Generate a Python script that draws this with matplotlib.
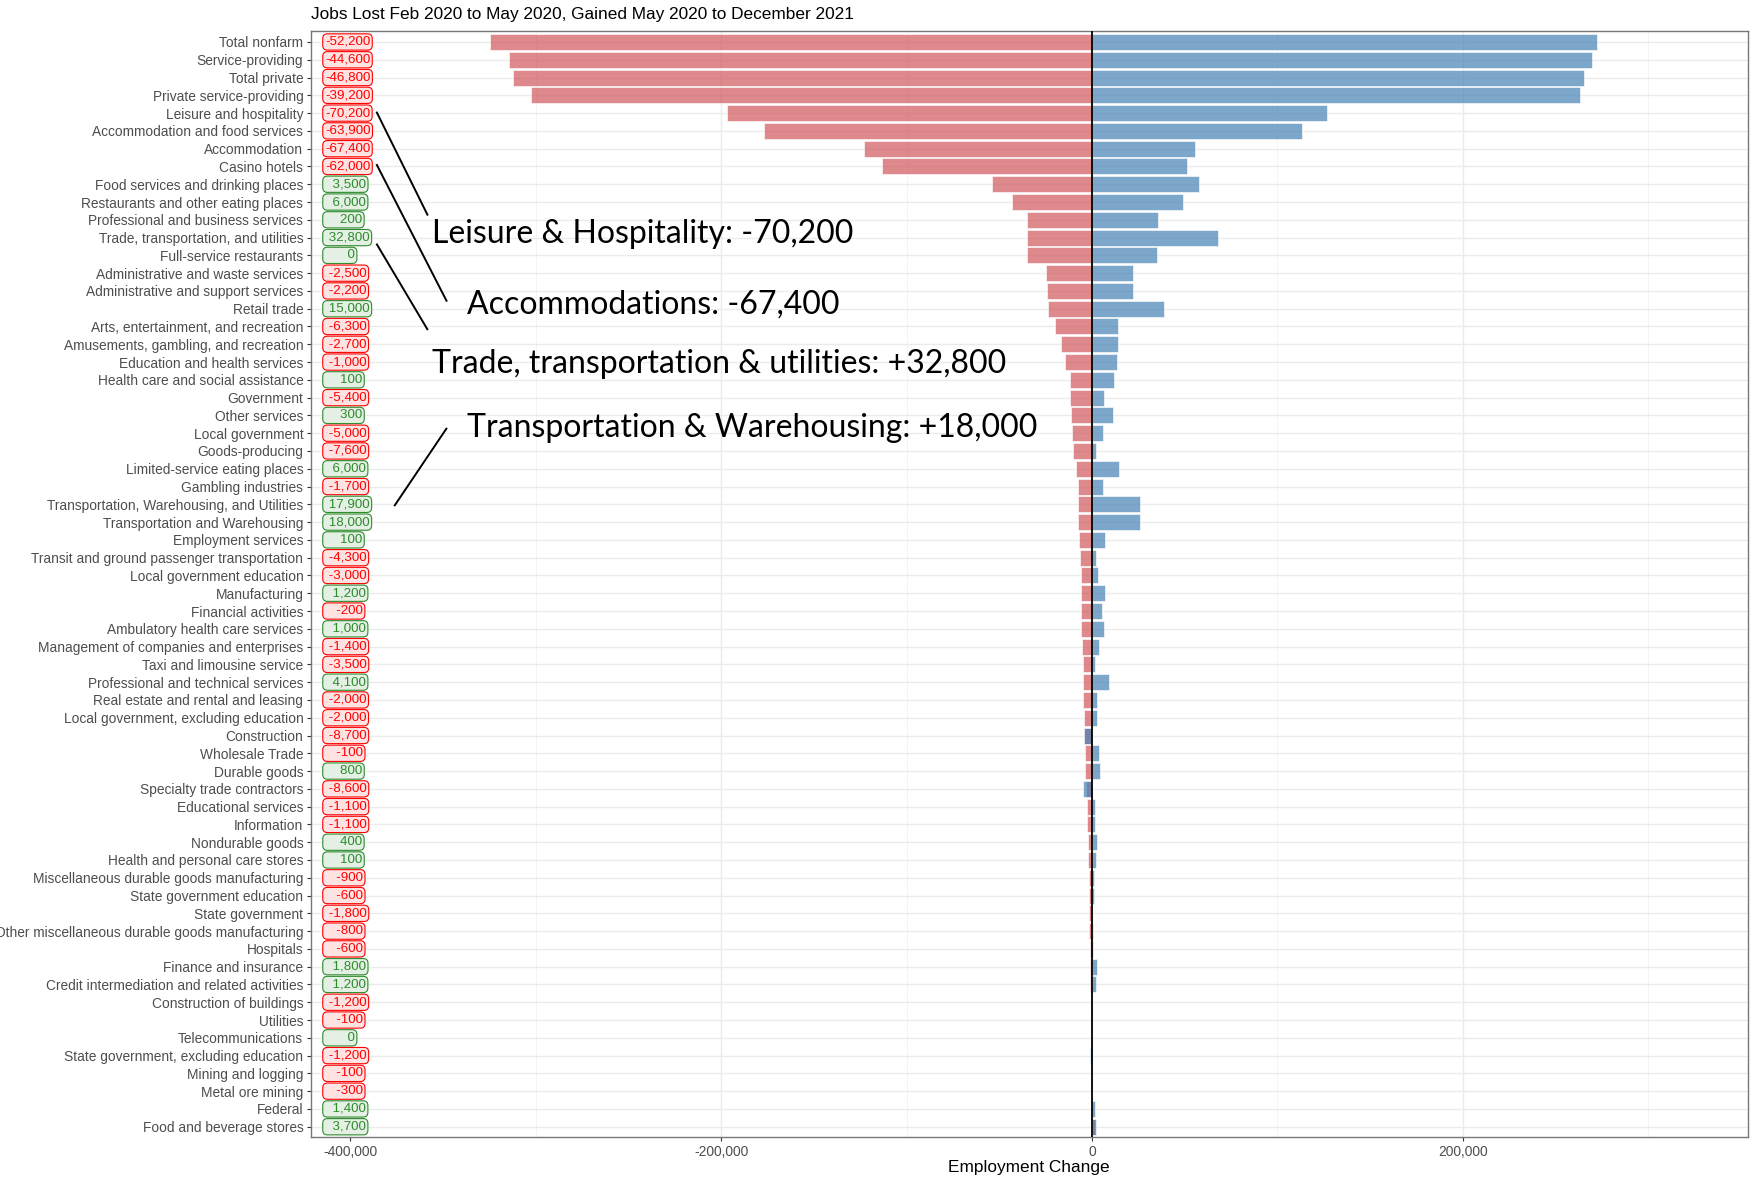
import matplotlib
matplotlib.use("Agg")
import matplotlib.pyplot as plt
import numpy as np

# categories, top to bottom (sorted by jobs lost Feb-May 2020)
categories = [
    "Total nonfarm", "Service-providing", "Total private", "Private service-providing",
    "Leisure and hospitality", "Accommodation and food services", "Accommodation",
    "Casino hotels", "Food services and drinking places", "Restaurants and other eating places",
    "Professional and business services", "Trade, transportation, and utilities",
    "Full-service restaurants", "Administrative and waste services",
    "Administrative and support services", "Retail trade",
    "Arts, entertainment, and recreation", "Amusements, gambling, and recreation",
    "Education and health services", "Health care and social assistance", "Government",
    "Other services", "Local government", "Goods-producing", "Limited-service eating places",
    "Gambling industries", "Transportation, Warehousing, and Utilities",
    "Transportation and Warehousing", "Employment services",
    "Transit and ground passenger transportation", "Local government education",
    "Manufacturing", "Financial activities", "Ambulatory health care services",
    "Management of companies and enterprises", "Taxi and limousine service",
    "Professional and technical services", "Real estate and rental and leasing",
    "Local government, excluding education", "Construction", "Wholesale Trade",
    "Durable goods", "Specialty trade contractors", "Educational services", "Information",
    "Nondurable goods", "Health and personal care stores",
    "Miscellaneous durable goods manufacturing", "State government education",
    "State government", "Other miscellaneous durable goods manufacturing", "Hospitals",
    "Finance and insurance", "Credit intermediation and related activities",
    "Construction of buildings", "Utilities", "Telecommunications",
    "State government, excluding education", "Mining and logging", "Metal ore mining",
    "Federal", "Food and beverage stores",
]

# change Feb 2020 -> May 2020
lost = [
    -324400, -314400, -312300, -302300, -196800, -176900, -122700, -113000, -54000, -43100,
    -35300, -35100, -35100, -24800, -24300, -23700, -20200, -16600, -14700, -11900,
    -11900, -11100, -10800, -10000, -8500, -7700, -7700, -7700, -7100, -6500,
    -6100, -5900, -5800, -5700, -5400, -5000, -5000, -4800, -4500, -4400,
    -3600, -3600, -3500, -2700, -2500, -2100, -2000, -1700, -1500, -1500,
    -1400, -1300, -1000, -900, -800, -300, -200, -100, -100, -100,
    0, 1500,
]

# change May 2020 -> December 2021
gained = [
    272200, 269800, 265500, 263100, 126600, 113000, 55300, 51000, 57500, 49100,
    35500, 67900, 35100, 22300, 22100, 38700, 13900, 13900, 13700, 12000,
    6500, 11400, 5800, 2400, 14500, 6000, 25600, 25700, 7200, 2200,
    3100, 7100, 5600, 6700, 4000, 1500, 9100, 2800, 2500, -4300,
    3500, 4400, -5100, 1600, 1400, 2500, 2100, 800, 900, -300,
    600, 700, 2800, 2100, -400, 200, 200, -1100, 0, -200,
    1400, 2200,
]

# net change Feb 2020 -> December 2021 (labels)
net = [
    -52200, -44600, -46800, -39200, -70200, -63900, -67400, -62000, 3500, 6000,
    200, 32800, 0, -2500, -2200, 15000, -6300, -2700, -1000, 100,
    -5400, 300, -5000, -7600, 6000, -1700, 17900, 18000, 100, -4300,
    -3000, 1200, -200, 1000, -1400, -3500, 4100, -2000, -2000, -8700,
    -100, 800, -8600, -1100, -1100, 400, 100, -900, -600, -1800,
    -800, -600, 1800, 1200, -1200, -100, 0, -1200, -100, -300,
    1400, 3700,
]

x_major = [-400000, -200000, 0, 200000]
x_minor = [-300000, -100000, 100000, 300000]

title = "Jobs Lost Feb 2020 to May 2020, Gained May 2020 to December 2021"

# callout text: (text, x, row)
callouts = [
    ("Leisure & Hospitality: -70,200", -355700, 10.8),
    ("Accommodations: -67,400", -337000, 14.77),
    ("Trade, transportation & utilities: +32,800", -355700, 18.1),
    ("Transportation & Warehousing: +18,000", -337000, 21.68),
]
# callout leader lines: ((x0, row0), (x1, row1))
leaders = [
    ((-385800, 3.92), (-358100, 9.76)),
    ((-385800, 6.87), (-347800, 14.6)),
    ((-385800, 11.34), (-358100, 16.2)),
    ((-347800, 21.7), (-376200, 26.1)),
]

W, H = 1752, 1178
fig = plt.figure(figsize=(W / 100, H / 100), dpi=100)
left, right, top, bottom = 310.6, 1747.5, 31.3, 1137.4
ax = fig.add_axes([left / W, 1 - bottom / H, (right - left) / W, (bottom - top) / H])

rows = np.arange(len(categories))
ax.barh(rows, lost, height=0.9, color="#D0585C", alpha=0.7,
        edgecolor="white", linewidth=0.6, zorder=2)
ax.barh(rows, gained, height=0.9, color="steelblue", alpha=0.7,
        edgecolor="white", linewidth=0.6, zorder=2)
ax.axvline(0, color="black", linewidth=1.3, zorder=3)

ax.set_xlim(-421300, 353400)
ax.set_ylim(len(categories) - 0.4, -0.6)

ax.set_yticks(rows)
ax.set_yticklabels(categories, family="Liberation Sans", fontsize=9.9, color="#4D4D4D")
ax.set_xticks(x_major)
ax.set_xticks(x_minor, minor=True)
ax.set_xticklabels([f"{v:,}" for v in x_major], family="Liberation Sans",
                   fontsize=9.9, color="#4D4D4D")
ax.tick_params(axis="both", which="major", length=2.75, width=0.8, color="#333333", pad=2.5)
ax.tick_params(axis="x", which="minor", length=0)

ax.grid(which="major", color="#EBEBEB", linewidth=1.0)
ax.grid(which="minor", axis="x", color="#F3F3F3", linewidth=0.6)
ax.set_axisbelow(True)
for sp in ax.spines.values():
    sp.set_color("#777777")
    sp.set_linewidth(1.0)

# net change labels, padded to a common width like R's format()
for i, v in enumerate(net):
    s = f"{v:,}".rjust(7)
    if v < 0:
        col, fill = "#FF0000", "#FFE3E3"
    else:
        col, fill = "#2E8B2E", "#E3F0E3"
    ax.text(-413600, i, s, ha="left", va="center", fontsize=9.6, color=col,
            family="Liberation Sans", zorder=4,
            bbox=dict(boxstyle="round,pad=0.16,rounding_size=0.35", fc=fill, ec=col, lw=0.8))

for s, x, r in callouts:
    ax.text(x, r, s, ha="left", va="center", fontsize=23, family="Lato",
            color="black", zorder=5)
for (x0, r0), (x1, r1) in leaders:
    ax.plot([x0, x1], [r0, r1], color="black", linewidth=1.4, zorder=5,
            solid_capstyle="butt")

fig.text(left / W, 1 - 14.5 / H, title, ha="left", va="center",
         fontsize=12.4, family="Liberation Sans", color="black")
fig.text((left + right) / 2 / W, 1 - 1167.6 / H, "Employment Change", ha="center",
         va="center", fontsize=12.4, family="Liberation Sans", color="black")

fig.savefig("out.png", dpi=100)
